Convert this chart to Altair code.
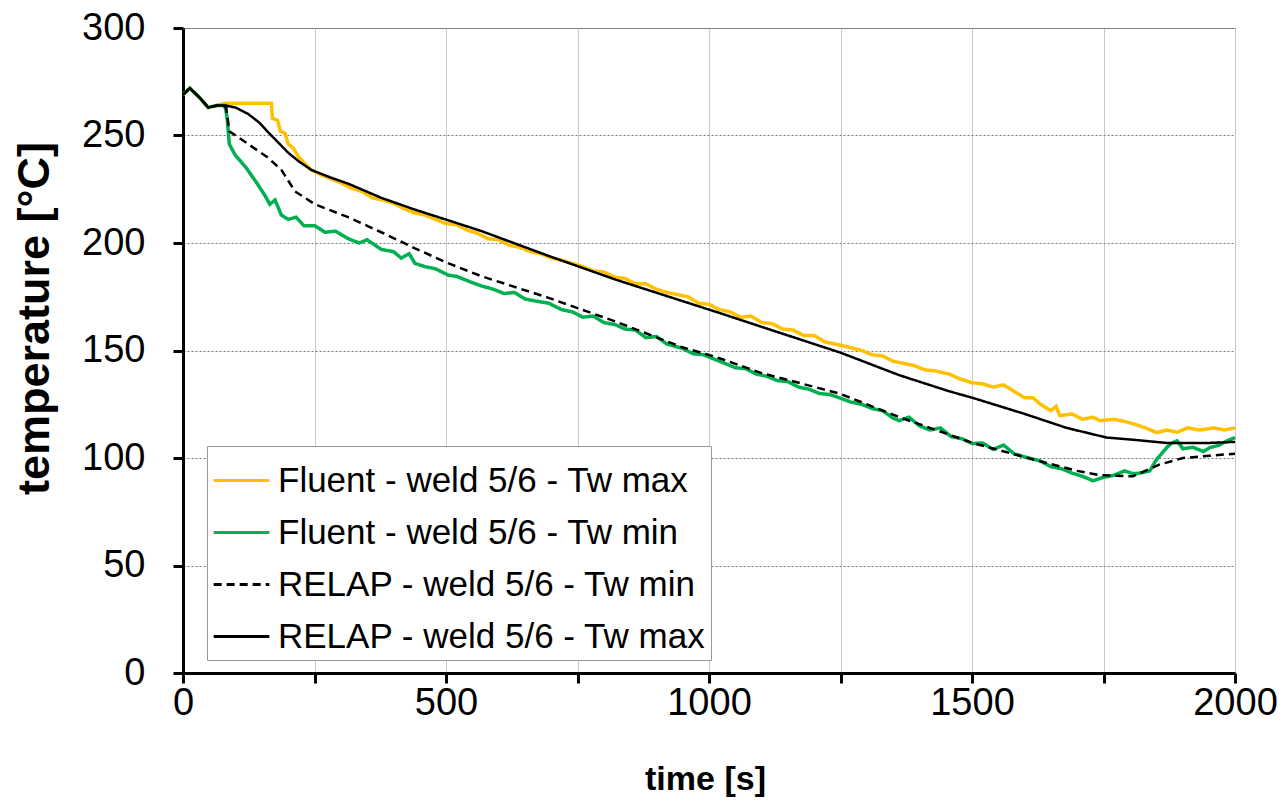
import altair as alt
import pandas as pd

# ---------------- data ----------------
series_names = [
    "Fluent - weld 5/6 - Tw max",
    "Fluent - weld 5/6 - Tw min",
    "RELAP - weld 5/6 - Tw min",
    "RELAP - weld 5/6 - Tw max",
]
series_colors = ["#FFC000", "#00B050", "#000000", "#000000"]
series_dashes = [[1, 0], [1, 0], [8, 5], [1, 0]]

t_fluent_max = [0, 13, 30, 48, 65, 80, 120, 168, 170, 180, 185, 194, 200, 210, 220, 235, 244, 260,
                280, 300, 320, 340, 360, 380, 400, 420, 440, 460, 480, 500, 520, 540, 560, 580, 600,
                620, 640, 660, 680, 700, 720, 740, 760, 780, 800, 822, 840, 860, 880, 900, 920, 940,
                960, 980, 1000, 1020, 1040, 1060, 1080, 1100, 1120, 1140, 1160, 1180, 1200, 1220,
                1240, 1267, 1290, 1310, 1330, 1350, 1370, 1390, 1410, 1430, 1457, 1475, 1500, 1520,
                1540, 1560, 1580, 1600, 1616, 1630, 1650, 1660, 1667, 1690, 1710, 1730, 1743, 1770,
                1790, 1806, 1830, 1851, 1870, 1890, 1910, 1933, 1960, 1980, 2000]
T_fluent_max = [269, 272, 268, 263, 264, 265, 265, 265, 258, 257, 252, 251, 246, 244, 240, 236, 234, 232,
                230, 228, 225.5, 224, 221, 220, 218.5, 216, 214, 213, 211, 209, 208.5, 206, 204.5, 202,
                201.5, 199, 198, 196, 195, 193, 192, 190.5, 189, 187, 186.5, 184, 183.5, 181, 181, 178.5,
                177, 176, 175, 172, 171.5, 169, 168, 165.5, 166, 163, 162.5, 160, 159.5, 157, 157, 154,
                153, 151.5, 150, 148, 147.5, 145, 144, 143, 141, 140.5, 139, 137, 135, 134.5, 133, 134,
                131, 128, 128, 125, 122, 124, 119.7, 120.5, 118, 119, 117.4, 118, 117, 116, 114, 111.8,
                113, 112, 114, 113, 114, 113, 114]

t_fluent_min = [0, 13, 30, 48, 65, 80, 84, 88, 99, 120, 140, 156, 165, 175, 187, 200, 215, 230, 251,
                270, 290, 314, 335, 350, 377, 400, 415, 430, 441, 460, 480, 505, 520, 545, 568, 590,
                610, 630, 650, 670, 695, 720, 740, 760, 780, 800, 822, 840, 860, 880, 900, 920, 949,
                970, 990, 1010, 1030, 1050, 1070, 1090, 1110, 1130, 1150, 1170, 1190, 1210, 1230, 1248,
                1270, 1290, 1310, 1330, 1350, 1362, 1380, 1400, 1420, 1440, 1460, 1480, 1501, 1520,
                1540, 1560, 1580, 1600, 1629, 1650, 1670, 1690, 1710, 1730, 1750, 1770, 1790, 1806,
                1820, 1838, 1850, 1870, 1880, 1890, 1901, 1920, 1940, 1952, 1970, 1985, 2000]
T_fluent_min = [269, 272, 268, 263, 264, 264, 258, 246, 241, 235, 228, 222, 218, 220, 213, 211, 212, 208,
                208, 205, 205.5, 202, 200, 201.5, 197, 196, 193, 195, 190.5, 189, 188, 185, 184.5, 182,
                180, 178.5, 176.5, 177, 174, 173, 172, 169, 168, 165.5, 166, 163, 162, 160, 159.5, 156,
                156.5, 153, 151, 148.5, 148, 146, 144, 142, 141.5, 139, 138, 136, 135.5, 133, 132, 130,
                129.5, 128, 126, 125, 123, 122, 118.5, 117.4, 119, 115, 113, 114, 110, 109, 106.7, 107,
                104, 106, 102, 100.5, 98.7, 96, 95, 93, 91.5, 89.4, 91, 92, 94, 92.7, 93, 94, 99, 104.8,
                107, 108, 104.3, 105, 103, 104.8, 106, 108, 109.5]

t_relap_min = [0, 13, 30, 48, 65, 82, 88, 124, 160, 187, 213, 251, 314, 377, 441, 505, 568, 695, 822,
               949, 1013, 1100, 1248, 1362, 1501, 1629, 1700, 1743, 1806, 1857, 1901, 1950, 2000]
T_relap_min = [269, 272, 268, 263, 264, 263, 252, 246, 240, 234, 224, 218, 212, 205, 197.5, 190.5, 184.5,
               174.5, 163.5, 151.5, 147, 139.5, 130, 119, 107, 98.5, 94, 92, 91.5, 97, 100, 101, 102]

t_relap_max = [0, 13, 30, 48, 65, 80, 100, 124, 145, 162, 180, 200, 220, 244, 280, 314, 377, 441, 505,
               568, 695, 822, 1013, 1100, 1250, 1362, 1457, 1501, 1600, 1680, 1756, 1806, 1870, 1950, 2000]
T_relap_max = [269, 272, 268, 263, 264, 264, 263, 260, 256, 251.5, 247, 242, 238, 234, 230.5, 227.6, 221,
               215.5, 210.5, 205.5, 194, 183, 168, 161, 149, 138.5, 131, 128, 120.5, 114, 109.5, 108.5,
               107, 107, 107.5]

x_ticks = [0, 250, 500, 750, 1000, 1250, 1500, 1750, 2000]
y_ticks = [0, 50, 100, 150, 200, 250, 300]


def frame(ts, vs, name):
    return pd.DataFrame({"time": ts, "temp": vs, "series": name, "order": list(range(len(ts)))})


fluent = pd.concat([frame(t_fluent_max, T_fluent_max, series_names[0]),
                    frame(t_fluent_min, T_fluent_min, series_names[1])])
relap = pd.concat([frame(t_relap_min, T_relap_min, series_names[2]),
                   frame(t_relap_max, T_relap_max, series_names[3])])

FONT = "Liberation Sans"

x_enc = alt.X(
    "time:Q",
    scale=alt.Scale(domain=[0, 2000], nice=False, zero=False),
    axis=alt.Axis(
        values=x_ticks, format="d",
        labelExpr="datum.value % 500 == 0 ? datum.label : ''",
        labelOverlap=False, labelFlush=False,
        labelFontSize=38, labelPadding=1, labelColor="#000",
        tickSize=10, tickWidth=3, tickColor="#000",
        domainColor="#000", domainWidth=3,
        grid=True, gridColor="#c8c8c8", gridWidth=1,
        title="time [s]", titleFontSize=34, titleFontWeight="bold", titleColor="#000",
        titleX=522, titleY=106, titleBaseline="middle", titleAnchor="middle", titleAlign="center",
    ),
)
y_enc = alt.Y(
    "temp:Q",
    scale=alt.Scale(domain=[0, 300], nice=False),
    axis=alt.Axis(
        values=y_ticks, format="d",
        labelFontSize=38, labelPadding=28, labelColor="#000",
        tickSize=10, tickWidth=3, tickColor="#000",
        domainColor="#000", domainWidth=3,
        grid=True, gridColor="#777777", gridWidth=1.2, gridDash=[2, 2],
        title="temperature [°C]", titleFontSize=45, titleFontWeight="bold", titleColor="#000",
        titleX=-149, titleY=290, titleAngle=-90, titleBaseline="middle", titleAlign="center",
    ),
)

legend = alt.Legend(
    orient="none", legendX=24, legendY=418, title=None,
    labelFontSize=35, labelFont=FONT, labelColor="#000", labelLimit=700, labelOffset=7,
    symbolType="stroke", symbolSize=3100, symbolStrokeWidth=3,
    strokeColor="#999", fillColor="white", padding=5, rowPadding=4,
)
color = alt.Color("series:N", scale=alt.Scale(domain=series_names, range=series_colors), legend=legend)
dash = alt.StrokeDash("series:N", scale=alt.Scale(domain=series_names, range=series_dashes), legend=legend)

fluent_layer = alt.Chart(fluent).mark_line(strokeWidth=3.5).encode(
    x=x_enc, y=y_enc, color=color, strokeDash=dash, order="order:Q", detail="series:N")
relap_layer = alt.Chart(relap).mark_line(strokeWidth=2.5).encode(
    x=x_enc, y=y_enc, color=color, strokeDash=dash, order="order:Q", detail="series:N")

chart = alt.layer(fluent_layer, relap_layer).properties(
    width=1052, height=645,
    autosize=alt.AutoSizeParams(type="none"),
    padding={"left": 183, "top": 28, "right": 50, "bottom": 130},
    background="white",
).configure(font=FONT).configure_view(stroke="#888888", strokeWidth=1)

chart.save("out.html", embed_options={"renderer": "svg", "actions": False})
